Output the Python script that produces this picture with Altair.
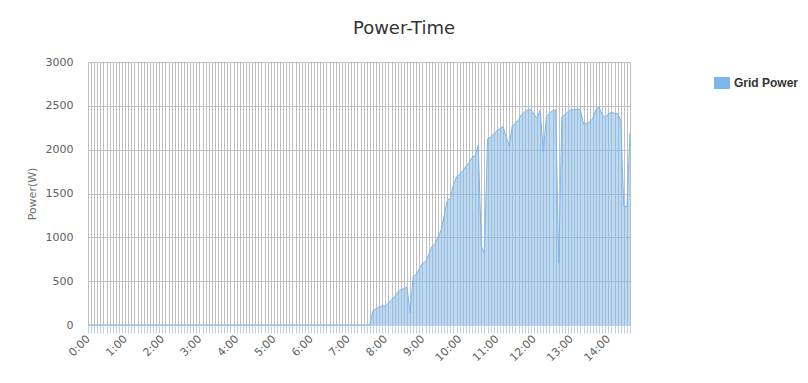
import altair as alt
import pandas as pd

# 5-minute categories from 0:00 to 14:35
times = [f"{m // 60}:{m % 60:02d}" for m in range(0, 880, 5)]

# Grid power (W), 0:00 .. 7:35 are zero
power_night = [0] * 92
power_day = [
    160, 185, 205, 217, 217, 250, 285, 325, 375, 400,
    415, 430, 140, 550, 578, 640, 705, 722, 800, 890,
    930, 1000, 1080, 1250, 1420, 1445, 1600, 1690, 1720, 1760,
    1810, 1850, 1910, 1935, 2050, 900, 818, 2120, 2145, 2180,
    2215, 2240, 2265, 2150, 2045, 2270, 2295, 2340, 2400, 2430,
    2453, 2460, 2400, 2360, 2450, 1970, 2380, 2415, 2445, 2453,
    704, 2375, 2400, 2435, 2455, 2455, 2461, 2455, 2290, 2300,
    2315, 2360, 2460, 2484, 2400, 2365, 2410, 2425, 2415, 2410,
    2335, 1350, 1350, 2190,
]
power = power_night + power_day
series_name = "Grid Power"
y_ticks = [0, 500, 1000, 1500, 2000, 2500, 3000]

minutes = [int(t.split(":")[0]) * 60 + int(t.split(":")[1]) for t in times]
df = pd.DataFrame({"time": times, "minutes": minutes, "power": power[: len(times)],
                   "series": series_name})

FONT = "DejaVu Sans"

chart = alt.Chart(df).mark_area(
    color="#7cb5ec",
    fillOpacity=0.5,
    interpolate="linear",
    line=alt.OverlayMarkDef(color="#7cb5ec", strokeWidth=1),
).encode(
    x=alt.X(
        "minutes:Q",
        scale=alt.Scale(domain=[0, 875], nice=False, zero=False),
        axis=alt.Axis(
            values=minutes,
            labelExpr="datum.value % 60 == 0 ? floor(datum.value / 60) + ':00' : ''",
            labelAngle=-45,
            labelAlign="right",
            labelBaseline="middle",
            labelOverlap=False,
            labelFlush=False,
            labelBound=False,
            labelFontSize=11,
            labelColor="#606060",
            labelFont=FONT,
            labelPadding=4,
            tickSize=8,
            tickColor="#C0D0E0",
            domainColor="#C0D0E0",
            grid=True,
            gridColor="#C0C0C0",
            gridWidth=1,
            title=None,
        ),
    ),
    y=alt.Y(
        "power:Q",
        scale=alt.Scale(domain=[0, 3000], nice=False),
        axis=alt.Axis(
            values=y_ticks,
            format="d",
            title="Power(W)",
            titleFontSize=11,
            titleFontWeight="normal",
            titleColor="#707070",
            titleFont=FONT,
            titlePadding=8,
            labelPadding=15,
            labelFontSize=11,
            labelColor="#606060",
            labelFont=FONT,
            ticks=False,
            domain=False,
            grid=True,
            gridColor="#C0C0C0",
        ),
    ),
    color=alt.Color(
        "series:N",
        scale=alt.Scale(domain=[series_name], range=["#7cb5ec"]),
        legend=alt.Legend(
            orient="none",
            legendX=628,
            legendY=15,
            title=None,
            symbolType="M-1.333,-1H1.333V1H-1.333Z",
            symbolSize=144,
            symbolOpacity=1,
            symbolStrokeWidth=0,
            labelFontWeight="bold",
            labelFontSize=12,
            labelColor="#333333",
            labelFont="Liberation Sans",
            labelOffset=6,
            padding=0,
        ),
    ),
).properties(
    width=542,
    height=263,
    title=alt.TitleParams(
        "Power-Time",
        fontSize=18,
        fontWeight="normal",
        color="#333333",
        font=FONT,
        anchor="middle",
        dx=45,
        offset=18,
    ),
    autosize=alt.AutoSizeParams(type="none"),
    padding={"left": 88, "top": 62, "right": 178, "bottom": 58},
).configure_view(stroke=None)

chart.save("out.html", embed_options={"renderer": "svg", "actions": False})
